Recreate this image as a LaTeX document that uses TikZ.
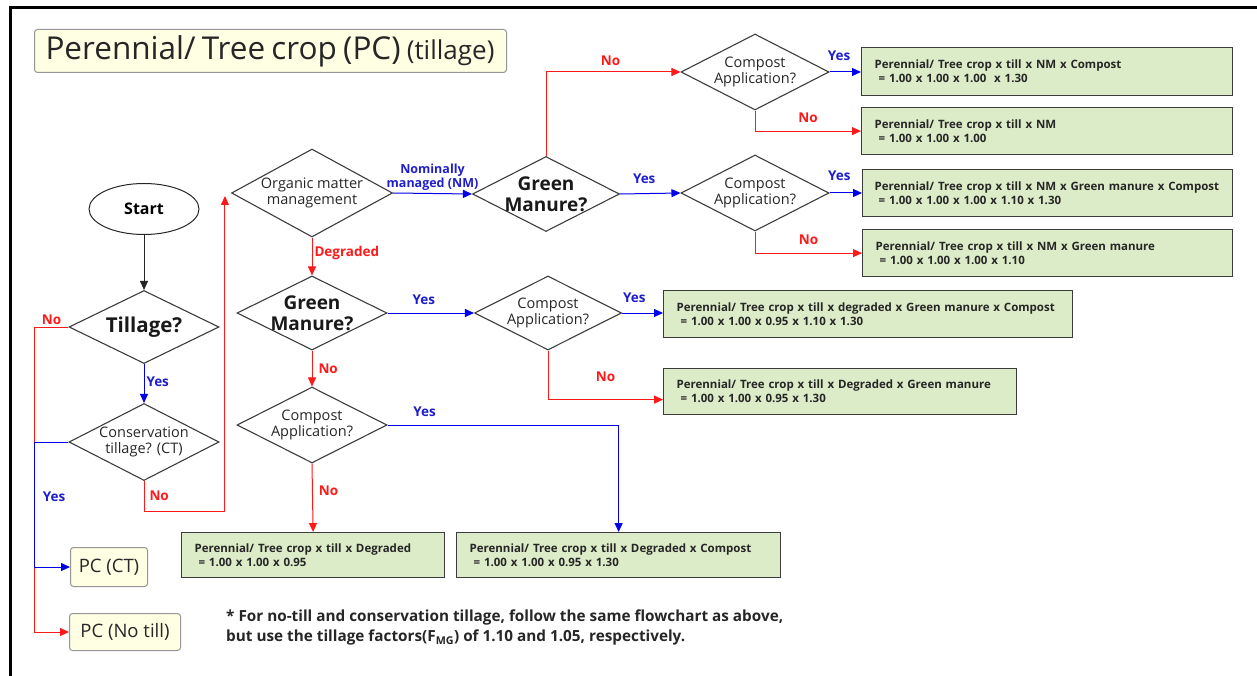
\documentclass[tikz,border=0pt]{standalone}
\usepackage{fontspec}
\setmainfont{Open Sans}
\usetikzlibrary{shapes.geometric,arrows.meta}

\definecolor{yesblue}{RGB}{0,0,235}
\definecolor{yestext}{RGB}{30,30,205}
\definecolor{nored}{RGB}{255,25,25}
\definecolor{boxfill}{RGB}{221,236,200}
\definecolor{boxline}{RGB}{60,60,60}
\definecolor{tagfill}{RGB}{255,255,228}
\definecolor{tagline}{RGB}{150,150,150}

\begin{document}
\begin{tikzpicture}[x=1pt,y=-1pt,
    dia/.style={diamond,draw=boxline,line width=1.1pt,inner sep=0pt,minimum width=150pt,minimum height=76pt},
    dtext/.style={align=center,text=black!85,font=\fontsize{14.5}{16}\selectfont},
    gtext/.style={align=center,text=black!90,font=\bfseries\fontsize{19}{21}\selectfont},
    tag/.style={draw=tagline,fill=tagfill,rounded corners=3pt,line width=1pt,text=black!85,font=\fontsize{18.5}{20}\selectfont},
    res/.style={draw=boxline,fill=boxfill,line width=1.2pt,anchor=north west,align=left,inner xsep=13pt,text=black!85,font=\bfseries\fontsize{11.5}{14}\selectfont},
    flow/.style={draw=black!85,line width=1pt,-{Triangle[length=9pt,width=8pt]}},
    yes/.style={draw=yesblue,line width=1pt,-{Triangle[length=9pt,width=8pt]}},
    no/.style={draw=nored,line width=1pt,-{Triangle[length=9pt,width=8pt]}},
    ylab/.style={text=yestext,font=\bfseries\fontsize{13.5}{15}\selectfont,inner sep=2pt},
    nlab/.style={text=nored,font=\bfseries\fontsize{13.5}{15}\selectfont,inner sep=2pt}]
\useasboundingbox (0,0) rectangle (1257,676);
% frame
\draw[line width=3pt] (10,676) -- (10,8) -- (1257,8);

% title
\node[tag,anchor=north west,inner xsep=11pt,text width=450pt,align=left,minimum height=43pt] (title) at (34,29)
    {\fontsize{31.5}{33}\selectfont Perennial/ Tree crop (PC) {\fontsize{26}{28}\selectfont (tillage)}};

% tillage column
\node[ellipse,draw=black!85,line width=1pt,minimum width=110pt,minimum height=51pt,font=\bfseries\fontsize{16}{18}\selectfont] (start) at (144,209) {Start};
\node[dia,minimum height=73pt,label={[gtext,font=\bfseries\fontsize{20.5}{22}\selectfont]center:Tillage?}] (till) at (144,327) {};
\node[dia,minimum height=77pt,label={[dtext]center:{Conservation\\tillage? (CT)}}] (ct) at (144,442) {};
\node[tag,anchor=west,minimum width=77pt,minimum height=39pt,inner xsep=4pt] (pcct) at (70,567) {PC (CT)};
\node[tag,anchor=west,minimum width=111pt,minimum height=37pt,inner xsep=4pt] (pcno) at (69,632) {PC (No till)};

% decisions
\node[dia,minimum width=161pt,minimum height=88pt,label={[dtext]center:{Organic matter\\management}}] (om) at (312,193) {};
\node[dia,minimum width=147pt,minimum height=75pt,label={[gtext]center:{Green\\Manure?}}] (gm1) at (546,194) {};
\node[dia,minimum width=148pt,label={[dtext]center:{Compost\\Application?}}] (c1) at (755,72) {};
\node[dia,minimum width=148pt,label={[dtext]center:{Compost\\Application?}}] (c2) at (755,193) {};
\node[dia,minimum height=74pt,label={[gtext]center:{Green\\Manure?}}] (gm2) at (312,313) {};
\node[dia,minimum width=147pt,minimum height=74pt,label={[dtext]center:{Compost\\Application?}}] (c3) at (548,313) {};
\node[dia,label={[dtext]center:{Compost\\Application?}}] (c4) at (312,425) {};

% results
\node[res,text width=345pt,minimum height=48pt] (r1) at (861,47)
    {Perennial/ Tree crop x till x NM x Compost\\\hspace*{4pt}= 1.00 x 1.00 x 1.00 \ x 1.30};
\node[res,text width=345pt,minimum height=47pt] (r2) at (861,107)
    {Perennial/ Tree crop x till x NM\\\hspace*{4pt}= 1.00 x 1.00 x 1.00};
\node[res,inner xsep=12pt,text width=346pt,minimum height=47pt] (r3) at (862,169)
    {\mbox{Perennial/ Tree crop x till x NM x Green manure x Compost}\\\hspace*{4pt}= 1.00 x 1.00 x 1.00 x 1.10 x 1.30};
\node[res,text width=344pt,minimum height=47pt] (r4) at (862,229)
    {Perennial/ Tree crop x till x NM x Green manure\\\hspace*{4pt}= 1.00 x 1.00 x 1.00 x 1.10};
\node[res,text width=383pt,minimum height=47pt] (r5) at (663,290)
    {Perennial/ Tree crop x till x degraded x Green manure x Compost\\\hspace*{4pt}= 1.00 x 1.00 x 0.95 x 1.10 x 1.30};
\node[res,text width=327pt,minimum height=46pt] (r6) at (663,368)
    {Perennial/ Tree crop x till x Degraded x Green manure\\\hspace*{4pt}= 1.00 x 1.00 x 0.95 x 1.30};
\node[res,text width=237pt,minimum height=45pt] (r7) at (181,532)
    {Perennial/ Tree crop x till x Degraded\\\hspace*{4pt}= 1.00 x 1.00 x 0.95};
\node[res,text width=298pt,minimum height=45pt] (r8) at (456,532)
    {Perennial/ Tree crop x till x Degraded x Compost\\\hspace*{4pt}= 1.00 x 1.00 x 0.95 x 1.30};

% note
\node[anchor=north west,align=left,inner sep=0pt,text=black!85,font=\bfseries\fontsize{15.3}{20}\selectfont] (note) at (226,610)
    {* For no-till and conservation tillage, follow the same flowchart as above,\\but use the tillage factors(F\textsubscript{MG}) of 1.10 and 1.05, respectively.};

% connectors
\draw[flow] (start) -- (till);
\draw[yes] (till) -- node[ylab,right,pos=.45] {Yes} (ct);
\draw[no] (till.west) -- node[nlab,above] {No} ++(-34,0) |- (pcno);
\draw[yes] (ct.west) -- ++(-34,0) |- node[ylab,right=6pt,pos=.22] {Yes} (pcct);
\draw[no] (ct.south) -- node[nlab,right=3pt] {No} ++(0,30) -| ([xshift=-6pt,yshift=-3pt]om.west);
\draw[yes] (om.east) -- node[ylab,above,align=center,font=\bfseries\fontsize{12.5}{14}\selectfont] {Nominally\\managed (NM)} (gm1.west);
\draw[no] (gm1.north) |- node[nlab,above=4pt,pos=.74] {No} (c1.west);
\draw[yes] (c1.east) -- node[ylab,above=9pt,pos=.3] {Yes} (c1.east -| r1.west);
\draw[no] (c1.south) |- node[nlab,above=6pt,pos=.75] {No} (r2.west);
\draw[yes] (gm1.east) -- node[ylab,above=7pt,pos=.4] {Yes} (c2.west);
\draw[yes] (c2.east) -- node[ylab,above=10pt,pos=.3] {Yes} (c2.east -| r3.west);
\draw[no] (c2.south) |- node[nlab,above=6pt,pos=.75] {No} (r4.west);
\draw[no] (om.south) -- node[nlab,right,pos=.4] {Degraded} (gm2.north);
\draw[yes] (gm2.east) -- node[ylab,above=6pt,pos=.42] {Yes} (c3.west);
\draw[yes] (c3.east) -- node[ylab,above=8pt,pos=.3] {Yes} (c3.east -| r5.west);
\draw[no] (c3.south) |- node[nlab,above=15pt,pos=.75] {No} ([yshift=-8pt]r6.west);
\draw[no] (gm2.south) -- node[nlab,right=4pt] {No} (c4.north);
\draw[yes] (c4.east) -| node[ylab,above=6pt,pos=.08] {Yes} (r8.north);
\draw[no] (c4.south) -- node[nlab,right=4pt,pos=.4] {No} (r7.north);
\end{tikzpicture}
\end{document}
